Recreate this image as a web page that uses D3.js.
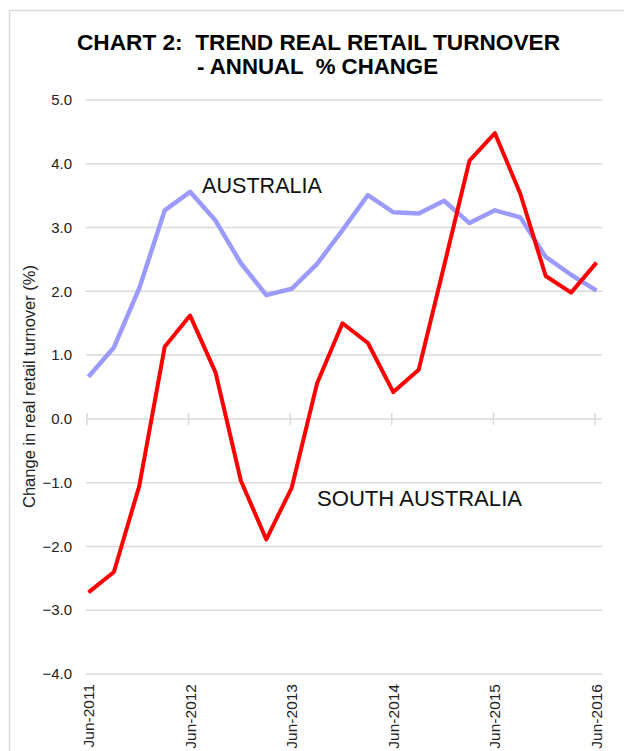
<!DOCTYPE html>
<html>
<head>
<meta charset="utf-8">
<script src="https://cdn.jsdelivr.net/npm/d3@7"></script>
<style>
  body { margin: 0; background: #fff; }
  svg { display: block; font-family: Arial, "Liberation Sans", sans-serif; }
  text { white-space: pre; }
</style>
</head>
<body>
<div id="chart"></div>
<script>
// quarterly data, Jun-2011 .. Jun-2016
var quarters = ["Jun-2011", "Sep-2011", "Dec-2011", "Mar-2012",
    "Jun-2012", "Sep-2012", "Dec-2012", "Mar-2013",
    "Jun-2013", "Sep-2013", "Dec-2013", "Mar-2014",
    "Jun-2014", "Sep-2014", "Dec-2014", "Mar-2015",
    "Jun-2015", "Sep-2015", "Dec-2015", "Mar-2016", "Jun-2016"];
var australia = [0.66, 1.12, 2.05, 3.27, 3.56, 3.11, 2.44, 1.94, 2.04, 2.43, 2.96,
    3.51, 3.24, 3.22, 3.42, 3.07, 3.27, 3.16, 2.54, 2.26, 2.01];
var southAustralia = [-2.72, -2.40, -1.05, 1.13, 1.62, 0.73, -0.97, -1.89, -1.08, 0.56, 1.50,
    1.19, 0.42, 0.77, 2.40, 4.05, 4.48, 3.53, 2.24, 1.98, 2.45];
var yTicks = [5, 4, 3, 2, 1, 0, -1, -2, -3, -4];
var xTickLabels = ["Jun-2011", "Jun-2012", "Jun-2013", "Jun-2014", "Jun-2015", "Jun-2016"];

var svgWidth = 624;
var svgHeight = 751;

var svg = d3.select("#chart").append("svg")
    .attr("width", svgWidth)
    .attr("height", svgHeight);

// light frame (only top and left edges are visible)
svg.append("rect")
    .attr("x", 9.5)
    .attr("y", 10.5)
    .attr("width", 700)
    .attr("height", 800)
    .attr("fill", "none")
    .attr("stroke", "#d9d9d9")
    .attr("stroke-width", 1.5);

var x = d3.scalePoint()
    .domain(quarters)
    .range([88.5, 596.5]);

var y = d3.scaleLinear()
    .domain([-4, 5])
    .range([674, 100]);

// title
var title = svg.append("g")
    .attr("font-weight", "bold")
    .attr("font-size", "22px")
    .attr("fill", "#000")
    .attr("text-anchor", "middle");
title.append("text")
    .attr("x", 318.5)
    .attr("y", 50)
    .attr("textLength", 483)
    .attr("lengthAdjust", "spacingAndGlyphs")
    .text("CHART 2:  TREND REAL RETAIL TURNOVER");
title.append("text")
    .attr("x", 317.5)
    .attr("y", 74)
    .attr("textLength", 241)
    .attr("lengthAdjust", "spacingAndGlyphs")
    .text("- ANNUAL  % CHANGE");

// gridlines
svg.append("g")
    .selectAll("line")
    .data(yTicks)
    .enter()
    .append("line")
    .attr("x1", 86)
    .attr("x2", 602)
    .attr("y1", d => y(d))
    .attr("y2", d => y(d))
    .attr("stroke", "#d9d9d9")
    .attr("stroke-width", 1.5);

// y tick labels
svg.append("g")
    .selectAll("text")
    .data(yTicks)
    .enter()
    .append("text")
    .attr("x", 72)
    .attr("y", d => y(d))
    .attr("dy", "0.35em")
    .attr("text-anchor", "end")
    .attr("font-size", "15px")
    .attr("fill", "#222")
    .text(d => d3.format(".1f")(d));

// x axis ticks sit on the zero line
var xAxis = svg.append("g")
    .attr("transform", `translate(0, ${y(0)})`);
xAxis.selectAll("line")
    .data(xTickLabels)
    .enter()
    .append("line")
    .attr("x1", d => x(d) - 1.5)
    .attr("x2", d => x(d) - 1.5)
    .attr("y1", -6)
    .attr("y2", 6)
    .attr("stroke", "#d9d9d9")
    .attr("stroke-width", 1.5);

// x labels, rotated
svg.append("g")
    .selectAll("text")
    .data(xTickLabels)
    .enter()
    .append("text")
    .attr("transform", d => `translate(${x(d)}, 684) rotate(-90)`)
    .attr("dy", "0.35em")
    .attr("text-anchor", "end")
    .attr("font-size", "15.5px")
    .attr("fill", "#222")
    .text(d => d);

// y axis title
svg.append("text")
    .attr("transform", "translate(35, 386.5) rotate(-90)")
    .attr("text-anchor", "middle")
    .attr("font-size", "16px")
    .attr("fill", "#222")
    .attr("textLength", 243)
    .attr("lengthAdjust", "spacingAndGlyphs")
    .text("Change in real retail turnover (%)");

var line = d3.line()
    .x((d, i) => x(quarters[i]))
    .y(d => y(d));

svg.append("path")
    .datum(australia)
    .attr("fill", "none")
    .attr("stroke", "#9b9bff")
    .attr("stroke-width", 4.5)
    .attr("stroke-linejoin", "round")
    .attr("d", line);

svg.append("path")
    .datum(southAustralia)
    .attr("fill", "none")
    .attr("stroke", "#ff0000")
    .attr("stroke-width", 4)
    .attr("stroke-linejoin", "round")
    .attr("d", line);

// series labels
svg.append("text")
    .attr("x", 202)
    .attr("y", 193)
    .attr("font-size", "21.5px")
    .attr("fill", "#111")
    .attr("textLength", 120)
    .attr("lengthAdjust", "spacingAndGlyphs")
    .text("AUSTRALIA");

svg.append("text")
    .attr("x", 317)
    .attr("y", 505.5)
    .attr("font-size", "21.5px")
    .attr("fill", "#111")
    .attr("textLength", 205)
    .attr("lengthAdjust", "spacingAndGlyphs")
    .text("SOUTH AUSTRALIA");
</script>
</body>
</html>
